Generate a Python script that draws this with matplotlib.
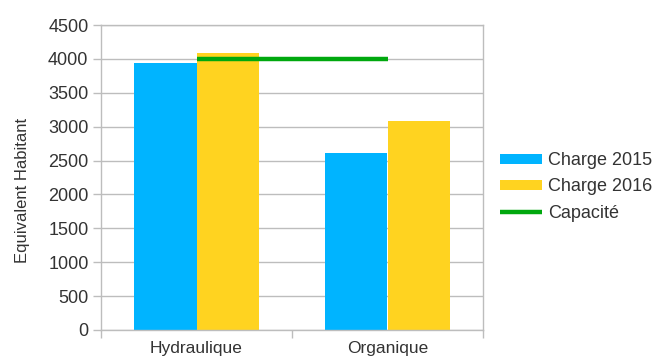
import matplotlib
matplotlib.use("Agg")
import matplotlib.pyplot as plt
import numpy as np

categories = ["Hydraulique", "Organique"]
charge_2015 = [3935, 2605]
charge_2016 = [4085, 3090]
capacite = [4000, 4000]
y_ticks = [0, 500, 1000, 1500, 2000, 2500, 3000, 3500, 4000, 4500]
series_labels = ["Charge 2015", "Charge 2016", "Capacité"]

plt.rcParams["font.family"] = ["Liberation Sans", "DejaVu Sans"]

blue = "#00b4ff"
yellow = "#ffd320"
green = "#00a80e"
grid_c = "#bdbdbd"
text_c = "#333333"

fig = plt.figure(figsize=(6.56, 3.62), dpi=100)
ax = fig.add_axes([101 / 656, 1 - 330 / 362, 382 / 656, 305 / 362])

x = np.arange(len(categories))
w = 0.325
b1 = ax.bar(x - w / 2, charge_2015, width=w, color=blue, label=series_labels[0], zorder=2)
b2 = ax.bar(x + w / 2, charge_2016, width=w, color=yellow, label=series_labels[1], zorder=2)
ln, = ax.plot(x, capacite, color=green, lw=3.2, solid_capstyle="butt", label=series_labels[2], zorder=3)

ax.set_xlim(-0.5, len(categories) - 0.5)
ax.set_ylim(0, 4500)
ax.set_yticks(y_ticks)
ax.set_yticklabels([str(v) for v in y_ticks], fontsize=13, color=text_c)
ax.yaxis.grid(True, color=grid_c, lw=1.0, zorder=0)
ax.set_axisbelow(True)

ax.set_xticks(x)
ax.set_xticklabels(categories, fontsize=12.5, color=text_c)
ax.tick_params(axis="x", which="major", length=0, pad=8)
ax.set_xticks(np.arange(len(categories) + 1) - 0.5, minor=True)
ax.tick_params(axis="x", which="minor", length=6, color=grid_c, width=1.0)
ax.tick_params(axis="y", length=6, color=grid_c, width=1.0, pad=3)

for side in ["left", "bottom", "right", "top"]:
    ax.spines[side].set_color(grid_c)
    ax.spines[side].set_linewidth(1.0)

ax.set_ylabel("Equivalent Habitant", fontsize=12, color=text_c)
ax.yaxis.set_label_coords(-0.186, 0.459)

fig.legend(handles=[b1, b2, ln], loc="center left", bbox_to_anchor=(500 / 656, 1 - 187 / 362),
           frameon=False, fontsize=13, handlelength=2.3, handleheight=0.45,
           handletextpad=0.35, labelspacing=0.5, borderpad=0, borderaxespad=0,
           labelcolor=text_c)

fig.savefig("out.png", dpi=100)
